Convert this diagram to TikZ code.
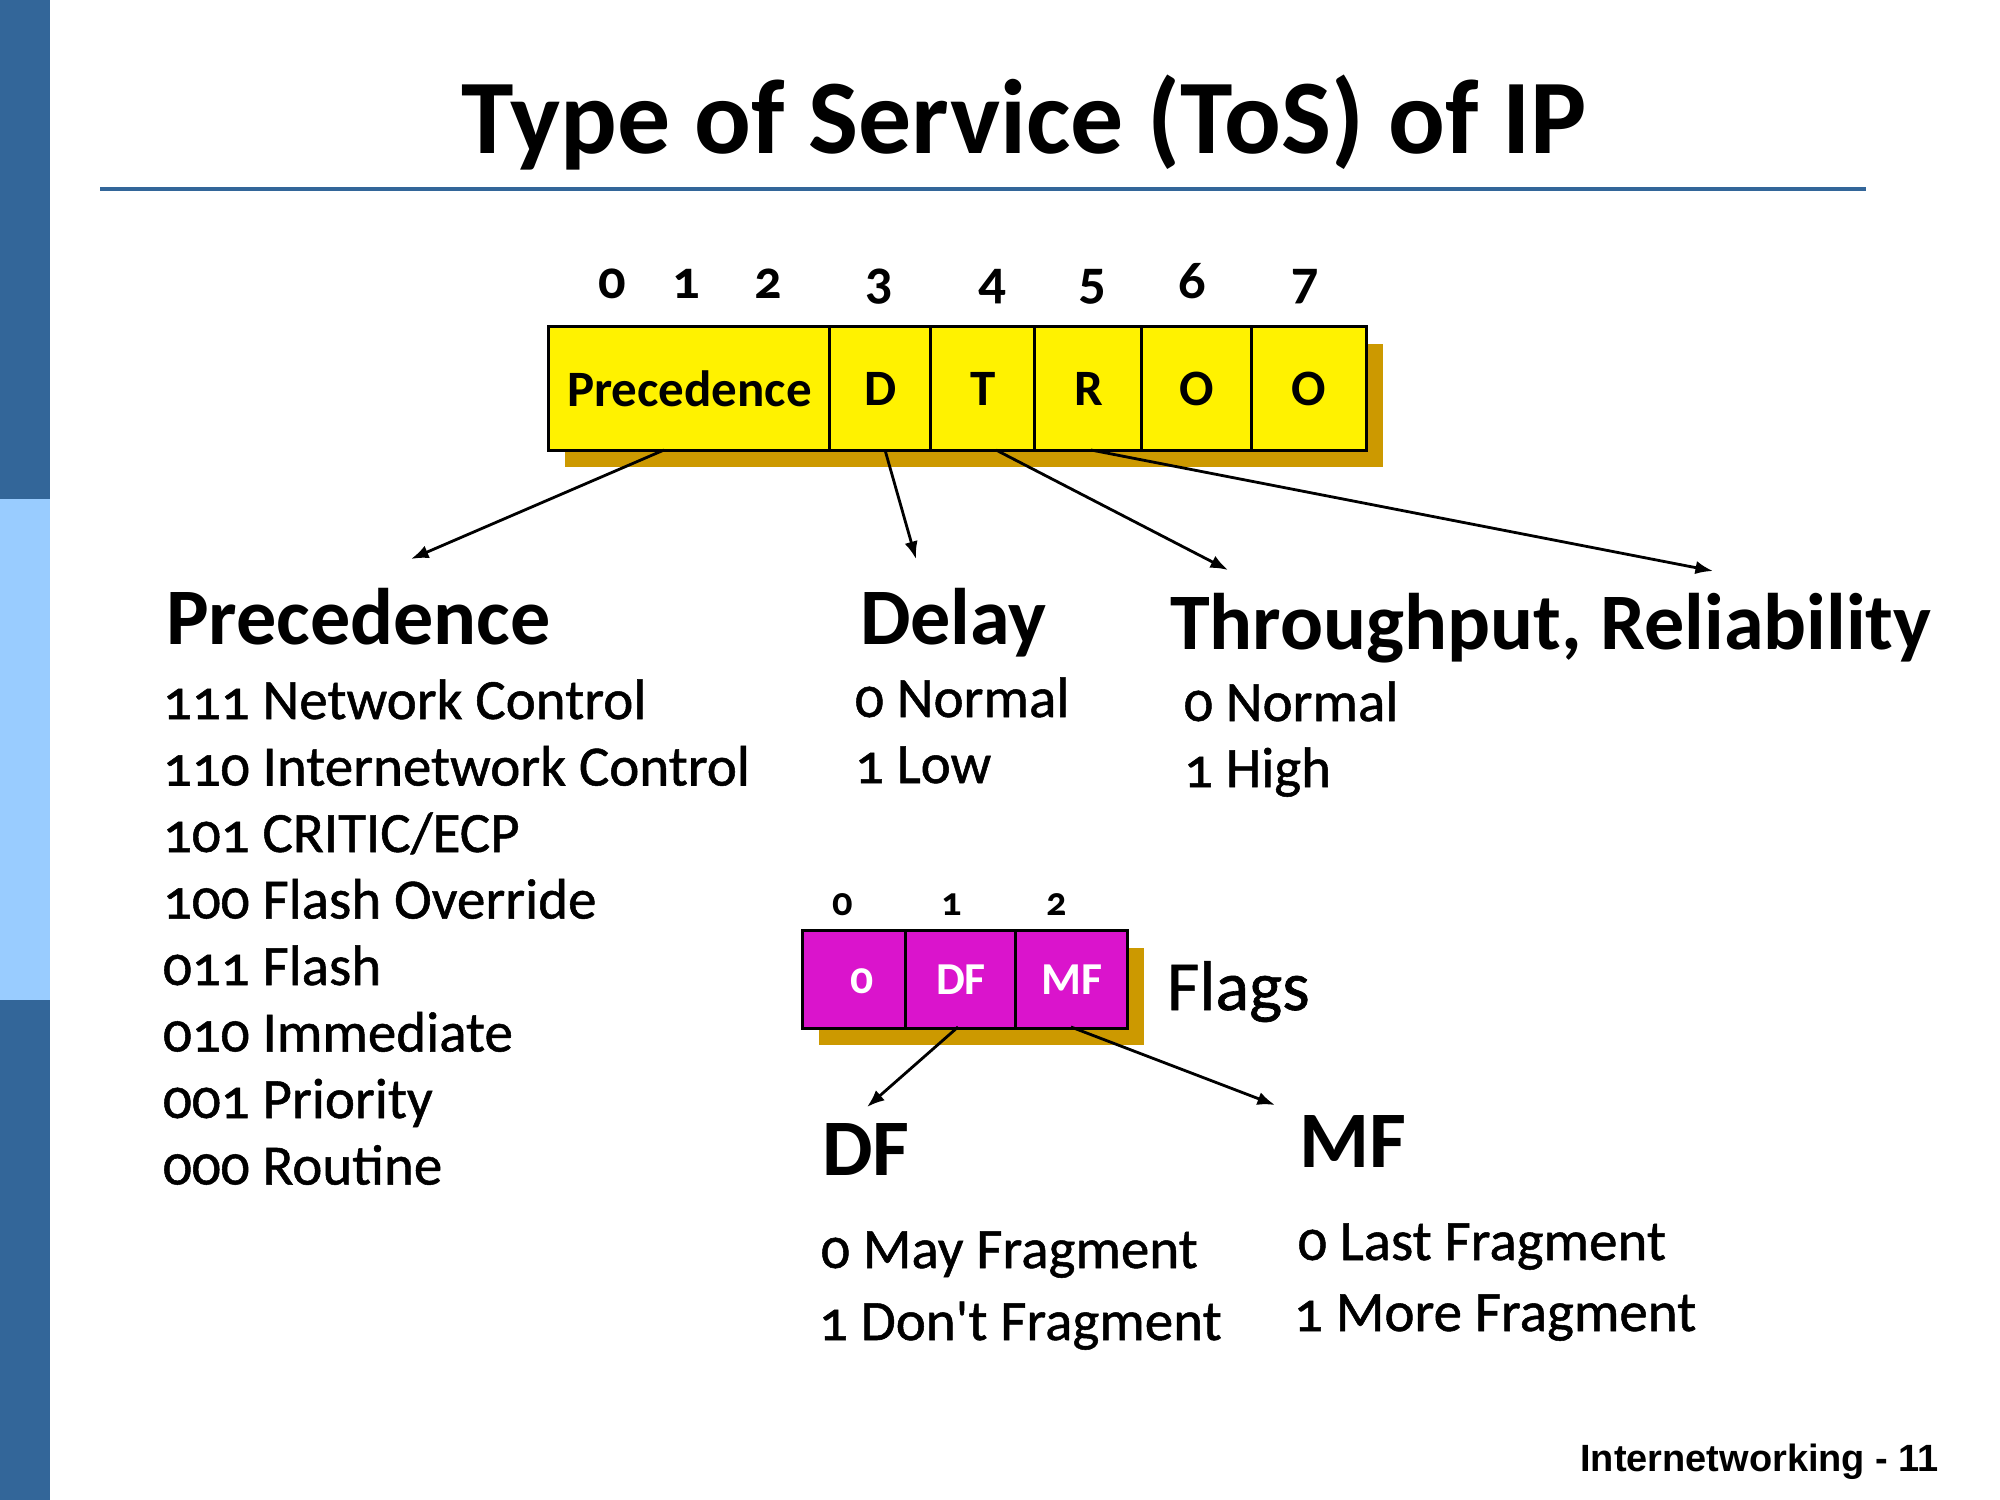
\documentclass[tikz,border=0pt]{standalone}
\usepackage{fontspec}
\setmainfont{Carlito}[Numbers=OldStyle]
\newfontfamily\semifont{Carlito}[Numbers=OldStyle, FakeBold=0.9]
\newfontfamily\arialfont{Liberation Sans}
\usetikzlibrary{arrows.meta}
\definecolor{barDark}{RGB}{51,102,153}
\definecolor{barLight}{RGB}{153,204,255}
\definecolor{shadowGold}{RGB}{204,153,0}
\definecolor{flagMag}{RGB}{218,20,204}
\newcommand\ttlfnt{\fontsize{30.1}{35}\selectfont\bfseries}
\newcommand\hdfnt{\fontsize{22.8}{27}\selectfont\bfseries}
\newcommand\lstfnt{\semifont\fontsize{16.2}{19}\selectfont}
\newcommand\boxfnt{\fontsize{14.5}{17}\selectfont\bfseries}
\newcommand\bitfnt{\fontsize{15.5}{19}\selectfont\bfseries}
\newcommand\fbitfnt{\fontsize{11.5}{14}\selectfont\bfseries}
\newcommand\fboxfnt{\fontsize{13}{16}\selectfont\bfseries}
\newcommand\flagfnt{\semifont\fontsize{20}{24}\selectfont}
\newcommand\footfnt{\arialfont\fontsize{10.8}{13}\selectfont\bfseries}
\begin{document}
\begin{tikzpicture}[x=0.01cm,y=-0.01cm,
  txt/.style={inner sep=0pt, outer sep=0pt},
  hd/.style={txt, anchor=base west, font=\hdfnt},
  lst/.style={txt, anchor=base west, font=\lstfnt},
  bitnum/.style={txt, anchor=base, font=\bitfnt},
  fbitnum/.style={txt, anchor=base, font=\fbitfnt},
  tcell/.style={draw=black, line width=0.85pt, fill=yellow, minimum height=1.23cm, inner sep=0pt, font=\boxfnt},
  fcell/.style={draw=black, line width=0.85pt, fill=flagMag, minimum height=0.97cm, inner sep=0pt, font=\fboxfnt, text=white},
  arw/.style={-{Latex[length=5pt,width=3.8pt]}, line width=0.8pt, black}]
\useasboundingbox (0,0) rectangle (2000,1500);
\fill[white] (0,0) rectangle (2000,1500);
% side bar
\fill[barDark] (0,0) rectangle (50,499);
\fill[barLight] (0,499) rectangle (50,1000);
\fill[barDark] (0,1000) rectangle (50,1500);
% title
\node[txt, anchor=base, font=\ttlfnt] (title) at (1024,153) {Type of Service (ToS) of IP};
\coordinate (ruleL) at (100,189);
\coordinate (ruleR) at (1866,189);
\draw[barDark, line width=1.1pt] (ruleL) -- (ruleR);
% bit numbers
\node[bitnum] (b0) at (612,298) {0};
\node[bitnum] (b1) at (686,298) {1};
\node[bitnum] (b2) at (768,298) {2};
\node[bitnum] (b3) at (879,298) {3};
\node[bitnum] (b4) at (992,298) {4};
\node[bitnum] (b5) at (1092,298) {5};
\node[bitnum] (b6) at (1192,298) {6};
\node[bitnum] (b7) at (1305,298) {7};
% top box
\fill[shadowGold] (565,344) rectangle (1383,467);
\node[tcell, minimum width=2.81cm] (cP) at (689.5,388.5) {Precedence};
\node[tcell, minimum width=1.01cm] (cD) at (880.5,388.5) {D};
\node[tcell, minimum width=1.04cm] (cT) at (983,388.5) {T};
\node[tcell, minimum width=1.07cm] (cR) at (1088.5,388.5) {R};
\node[tcell, minimum width=1.10cm] (cO1) at (1197,388.5) {O};
\node[tcell, minimum width=1.14cm] (cO2) at (1309,388.5) {O};
% arrows from top box
\coordinate (a1s) at (664,450); \coordinate (a1e) at (411,559);
\coordinate (a2s) at (885,450); \coordinate (a2e) at (916,559);
\coordinate (a3s) at (996,450); \coordinate (a3e) at (1228,570);
\coordinate (a4s) at (1091,450); \coordinate (a4e) at (1713,571);
\draw[arw] (a1s) -- (a1e);
\draw[arw] (a2s) -- (a2e);
\draw[arw] (a3s) -- (a3e);
\draw[arw] (a4s) -- (a4e);
% headings
\node[hd] (hPrec) at (166,644) {Precedence};
\node[hd] (hDelay) at (860,644) {Delay};
\node[hd] (hTR) at (1170,649) {Throughput, Reliability};
% precedence list
\node[lst] (p1) at (163,719) {111 Network Control};
\node[lst] (p2) at (163,785.5) {110 Internetwork Control};
\node[lst] (p3) at (163,852) {101 CRITIC/ECP};
\node[lst] (p4) at (163,918.5) {100 Flash Override};
\node[lst] (p5) at (163,985) {011 Flash};
\node[lst] (p6) at (163,1051.5) {010 Immediate};
\node[lst] (p7) at (163,1118) {001 Priority};
\node[lst] (p8) at (163,1184.5) {000 Routine};
% delay list
\node[lst] (d1) at (855,717) {0 Normal};
\node[lst] (d2) at (855,783) {1 Low};
% throughput list
\node[lst] (t1) at (1184,721) {0 Normal};
\node[lst] (t2) at (1184,787) {1 High};
% flags
\node[fbitnum] (fb0) at (843,915) {0};
\node[fbitnum] (fb1) at (952,915) {1};
\node[fbitnum] (fb2) at (1057,915) {2};
\fill[shadowGold] (819,948) rectangle (1144,1045);
\node[fcell, minimum width=1.03cm] (f0) at (854.5,979.5) {};
\node[txt, font=\fboxfnt, text=white] (f0t) at (862,981) {0};
\node[fcell, minimum width=1.10cm] (fDF) at (961,979.5) {DF};
\node[fcell, minimum width=1.11cm] (fMF) at (1071.5,979.5) {MF};
\node[txt, anchor=base west, font=\flagfnt] (flags) at (1167,1010) {Flags};
\coordinate (a5s) at (958,1027); \coordinate (a5e) at (867,1107);
\coordinate (a6s) at (1071,1027); \coordinate (a6e) at (1275,1105);
\draw[arw] (a5s) -- (a5e);
\draw[arw] (a6s) -- (a6e);
\node[hd] (hDF) at (822,1175) {DF};
\node[hd] (hMF) at (1299,1167) {MF};
\node[lst] (df1) at (821,1268) {0 May Fragment};
\node[lst] (df2) at (819,1340) {1 Don't Fragment};
\node[lst] (mf1) at (1298,1260) {0 Last Fragment};
\node[lst] (mf2) at (1294,1331) {1 More Fragment};
% footer
\node[txt, anchor=base east, font=\footfnt] (footer) at (1939,1471) {Internetworking - 11};
\end{tikzpicture}
\end{document}
